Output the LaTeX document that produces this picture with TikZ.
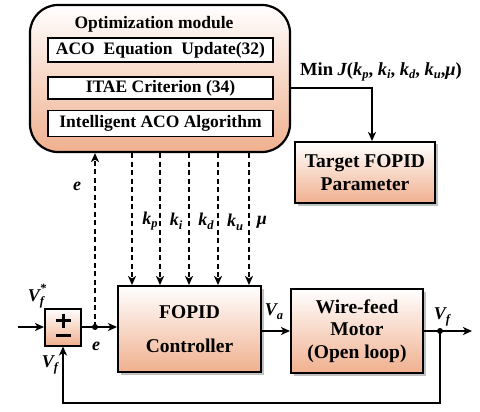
\documentclass[tikz,border=0pt]{standalone}
\usepackage{fontspec}
\setmainfont{Liberation Serif}
\usetikzlibrary{arrows.meta,shadows,calc}
\definecolor{peach}{RGB}{240,176,142}
\newcommand{\lowsub}[1]{\raisebox{-0.45ex}{\fontsize{12.5}{12.5}\selectfont #1}}
\newcommand{\bi}[1]{{\bfseries\itshape #1}}
\tikzset{
  grad/.style={top color=white, bottom color=peach},
  shd/.style={drop shadow={shadow xshift=2.5pt,shadow yshift=-2.5pt,opacity=0.35,fill=black!70}},
  blk/.style={draw, line width=2pt, grad, shd, align=center, inner sep=0pt,
    font=\fontsize{19.5}{22.5}\selectfont\bfseries},
  modbox/.style={draw, line width=2.2pt, grad, rounded corners=28pt, inner sep=0pt,
    minimum width=260pt, minimum height=147pt},
  inbox/.style={draw, line width=1.9pt, fill=white, inner sep=0pt,
    minimum width=225pt, minimum height=24pt, font=\fontsize{17.5}{20}\selectfont\bfseries},
  lbl/.style={inner sep=0pt, font=\fontsize{18}{20}\selectfont\bfseries\itshape},
  arr/.style={line width=1.6pt, -{Stealth[length=9pt,width=8pt,inset=2.5pt]}},
  darr/.style={arr, dash pattern=on 5pt off 3.5pt},
  ln/.style={line width=1.6pt},
}
\begin{document}
\begin{tikzpicture}[x=1pt,y=-1pt]
\useasboundingbox (0,0) rectangle (480,412);
% optimization module
\node[modbox] (mod) at (160,78.5) {};
\node[inner sep=0pt, font=\fontsize{17.5}{20}\selectfont\bfseries] (title) at (154,24) {Optimization module};
\node[inbox] (aco) at (160.5,50) {ACO\ \ Equation\ \ Update(32)};
\node[inbox, minimum height=22pt] (itae) at (160.5,88) {ITAE Criterion (34)};
\node[inbox, minimum height=26pt] (intel) at (160.5,123.5) {Intelligent ACO Algorithm};
% target
\node[inner sep=0pt, font=\fontsize{18.5}{20}\selectfont\bfseries] (minj) at (381,72)
  {Min \bi{J}(\bi{k}\lowsub{\bi{p}}, \bi{k}\lowsub{\bi{i}}, \bi{k}\lowsub{\bi{d}}, \bi{k}\lowsub{\bi{u}},\bi{μ})};
\node[blk, minimum width=140pt, minimum height=61pt] (tgt) at (365,172.5) {Target FOPID\\Parameter};
\coordinate (tj) at (372,88);
\draw[arr] (mod.east |- tj) -| (tgt.north -| tj);
% blocks
\node[blk, minimum width=143pt, minimum height=86pt] (fopid) at (189.5,329) {FOPID\\[12pt]Controller};
\node[blk, minimum width=132pt, minimum height=84pt] (motor) at (357,331) {Wire-feed\\Motor\\(Open loop)};
\node[draw, line width=2pt, grad, inner sep=0pt, minimum width=36pt, minimum height=37pt] (sum) at (63,327) {};
\draw[line width=3pt] ($(sum.center)+(-7.5,-6.3)$) -- ($(sum.center)+(7.5,-6.3)$)
  ($(sum.center)+(0,-13.5)$) -- ($(sum.center)+(0,1)$)
  ($(sum.center)+(-7.5,8)$) -- ($(sum.center)+(7.5,8)$);
% signals
\coordinate (in) at (18,327);
\coordinate (j1) at (95,327);
\coordinate (j2) at (440,331);
\coordinate (out) at (472,331);
\coordinate (fb) at (440,403);
\draw[arr] (in) -- (sum.west);
\draw[ln] (sum.east) -- (j1);
\draw[arr] (j1) -- (fopid.west |- j1);
\fill (j1) circle (3pt);
\draw[darr] (j1) -- (j1 |- mod.south);
\draw[arr] (fopid.east |- motor) -- (motor.west);
\draw[arr] (motor.east) -- (out);
\fill (j2) circle (3pt);
\draw[arr] (j2) -- (fb) -| (sum.south);
% dashed parameter lines
\foreach \xx/\nm in {132/a,160/b,189/c,218/d,249/e}{
  \coordinate (t\nm) at (\xx,152);
  \draw[darr] (t\nm |- mod.south) -- (t\nm |- fopid.north);
}
% labels
\node[lbl] (lkp) at (150,221) {k\lowsub{p}};
\node[lbl] (lki) at (176,221) {k\lowsub{i}};
\node[lbl] (lkd) at (206,221) {k\lowsub{d}};
\node[lbl] (lku) at (235,222) {k\lowsub{u}};
\node[lbl] (lmu) at (262,222) {μ};
\node[lbl] (le1) at (77,186) {e};
\node[lbl] (le2) at (96,346) {e};
\node[lbl] (lvr) at (36,296) {V\rlap{\raisebox{1.1ex}{\fontsize{12.5}{12.5}\selectfont *}}\lowsub{f}};
\node[lbl] (lvf) at (50,365) {V\lowsub{f}};
\node[lbl] (lva) at (274,312) {V\lowsub{a}};
\node[lbl] (lvo) at (442,317) {V\lowsub{f}};
\end{tikzpicture}
\end{document}
